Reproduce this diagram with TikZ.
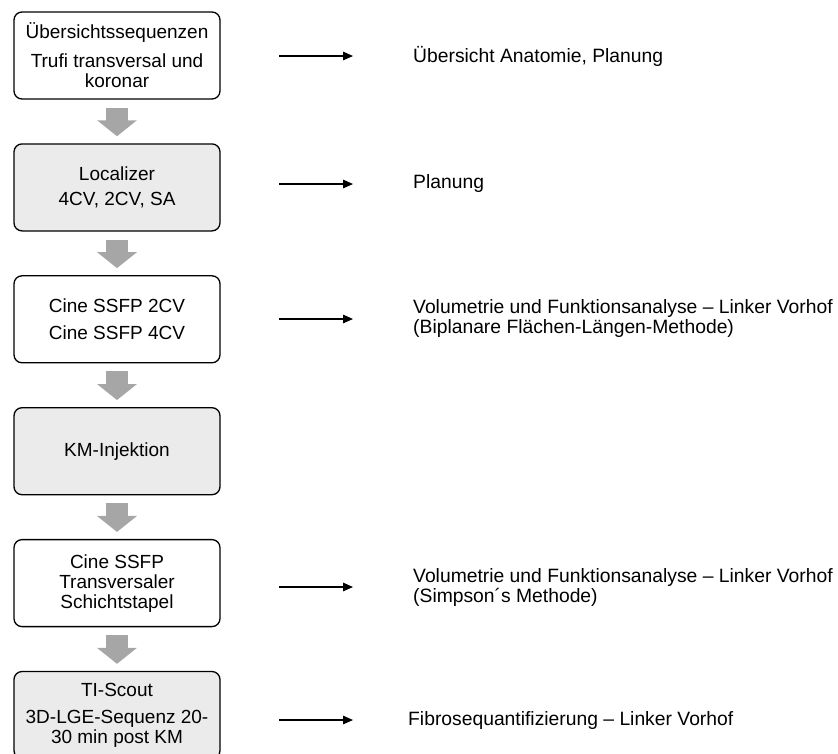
\documentclass[tikz,border=0pt]{standalone}
\usepackage{fontspec}
\setmainfont{Liberation Sans}
\usepackage{xcolor}
\usepackage{tikz}
\usetikzlibrary{arrows.meta}
\usetikzlibrary{shapes}
\definecolor{stagegray}{HTML}{EBEBEB}
\definecolor{flowgray}{HTML}{A6A6A6}
\tikzset{%
  every stage/.style={
    rectangle,
    rounded corners=8pt,
    draw,
    line width=1.3pt,
    minimum width=206pt,
    minimum height=87pt,
    align=center,
    font=\fontsize{19}{20}\selectfont
  },
  stage plain/.style={fill=white},
  stage shaded/.style={fill=stagegray},
  flow/.style={
    draw=flowgray,
    line width=22pt,
    -{Triangle[width=39pt, length=16pt]},
    shorten <=8pt,
    shorten >=7pt
  },
  every info/.style={
    anchor=west,
    inner sep=0pt,
    align=left,
    font=\fontsize{19.3}{20}\selectfont
  },
}

\begin{document}
\begin{tikzpicture}[x=1pt, y=-1pt, >={Triangle[length=10pt, width=8.5pt]}]

    \clip (0,0) rectangle (838,753);

    \foreach \m/\t [count=\y] in {
        plain/{Übersichtssequenzen\\[9pt]Trufi transversal und\\koronar},
        shaded/{Localizer\\[5pt]4CV, 2CV, SA},
        plain/{Cine SSFP 2CV\\[7pt]Cine SSFP 4CV},
        shaded/{KM-Injektion},
        plain/{Cine SSFP\\Transversaler\\Schichtstapel},
        shaded/{TI-Scout\\[7pt]3D-LGE-Sequenz 20-\\30 min post KM}}
    \node [every stage/.try, stage \m/.try] (stage-\y) at (117,55.5+131.9*\y-131.9) {\t};

    \foreach \i [count=\j from 2] in {1,...,5}
        \draw [flow] (stage-\i) -- (stage-\j);

    \foreach \s/\y/\x/\t in {
        1/56/413/{Übersicht Anatomie, Planung},
        2/184/413/{Planung},
        3/319/413/{Volumetrie und Funktionsanalyse – Linker Vorhof\\(Biplanare Flächen-Längen-Methode)},
        5/587/413/{Volumetrie und Funktionsanalyse – Linker Vorhof\\(Simpson´s Methode)},
        6/720/408/{Fibrosequantifizierung – Linker Vorhof}}
    {
        \node [every info/.try] (info-\s) at (\x,\y) {\t};
        \coordinate (tail-\s) at (279,\y);
        \coordinate (tip-\s) at (353,\y);
        \draw [->, line width=1.3pt] (tail-\s) -- (tip-\s);
    }

\end{tikzpicture}
\end{document}
